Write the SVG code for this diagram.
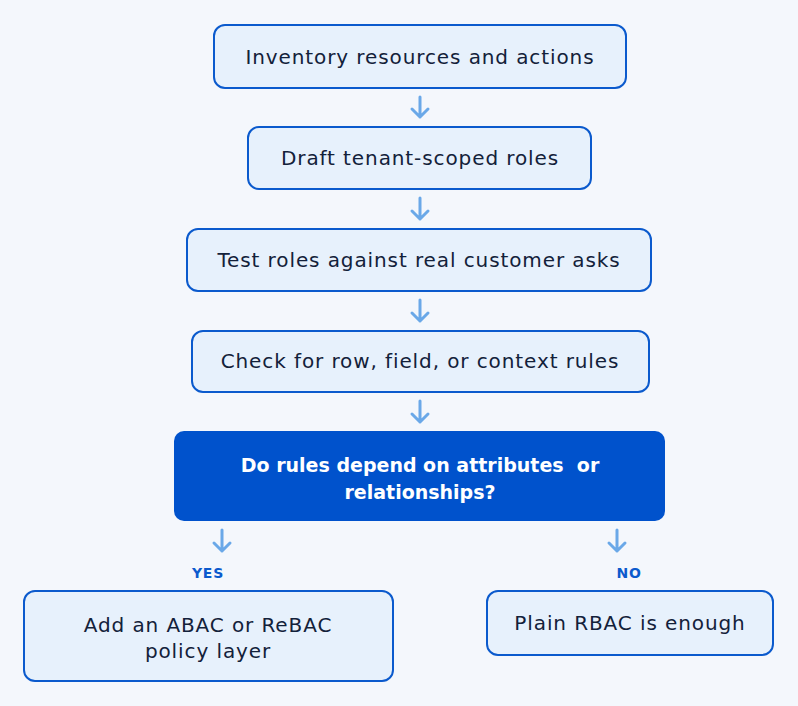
<svg xmlns="http://www.w3.org/2000/svg" width="798" height="706" viewBox="0 0 798 706">
<style>
.bg{fill:#F4F7FC}
.box rect{fill:#E7F1FC;stroke:#0B5ACD;stroke-width:2}
.box text{font-family:"DejaVu Sans","Noto Sans",sans-serif;font-size:20px;letter-spacing:0.9px;fill:#13213A;text-anchor:middle;dominant-baseline:central}
.dec rect{fill:#0052CC}
.dec text{font-family:"DejaVu Sans","Noto Sans",sans-serif;font-size:19px;font-weight:600;fill:#FFFFFF;text-anchor:middle;dominant-baseline:central;white-space:pre}
.lbl{font-family:"DejaVu Sans","Noto Sans",sans-serif;font-size:14px;font-weight:700;fill:#0B5ACD;text-anchor:middle;letter-spacing:0.8px;dominant-baseline:central}
.conn path{fill:none;stroke:#6AA8E8;stroke-width:3;stroke-linecap:round;stroke-linejoin:round}
</style>
<rect class="bg" x="0" y="0" width="798" height="706"/>
<g id="connectors" class="conn">
<path d="M420 97V117M412 109L420 117L428 109"/>
<path d="M420 198V219M412 211L420 219L428 211"/>
<path d="M420 300V321M412 313L420 321L428 313"/>
<path d="M420 401V422M412 414L420 422L428 414"/>
<path d="M222 530V551M214 543L222 551L230 543"/>
<path d="M617 530V551M609 543L617 551L625 543"/>
</g>
<g id="n1" class="box"><rect x="214" y="25" width="412" height="63" rx="11"/><text x="420" y="57">Inventory resources and actions</text></g>
<g id="n2" class="box"><rect x="248" y="127" width="343" height="62" rx="11"/><text x="420" y="158">Draft tenant-scoped roles</text></g>
<g id="n3" class="box"><rect x="187" y="229" width="464" height="62" rx="11"/><text x="419" y="260">Test roles against real customer asks</text></g>
<g id="n4" class="box"><rect x="192" y="331" width="457" height="61" rx="11"/><text x="420" y="361">Check for row, field, or context rules</text></g>
<g id="decision" class="dec"><rect x="174" y="431" width="491" height="90" rx="10"/><text x="420" y="465">Do rules depend on attributes  or</text><text x="420" y="492">relationships?</text></g>
<g id="yes-label"><text class="lbl" x="208" y="573">YES</text></g>
<g id="no-label"><text class="lbl" x="629" y="573">NO</text></g>
<g id="n5" class="box"><rect x="24" y="591" width="369" height="90" rx="11"/><text x="208" y="625">Add an ABAC or ReBAC</text><text x="208" y="651">policy layer</text></g>
<g id="n6" class="box"><rect x="487" y="591" width="286" height="64" rx="11"/><text x="630" y="623">Plain RBAC is enough</text></g>
</svg>
